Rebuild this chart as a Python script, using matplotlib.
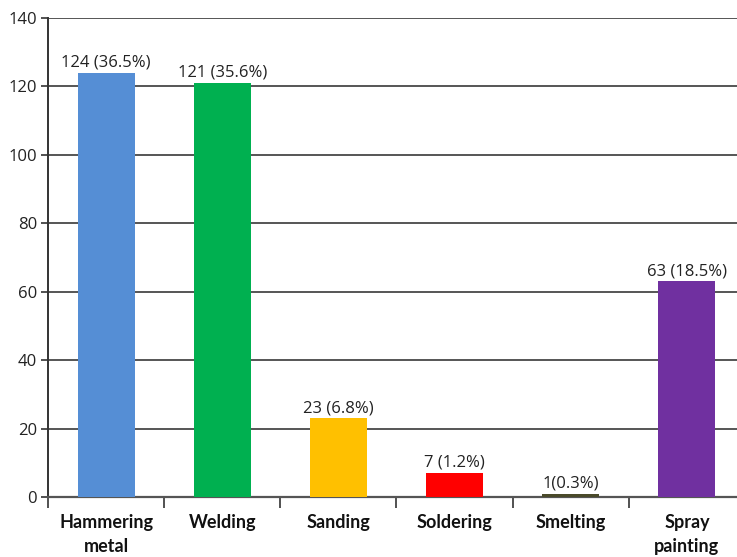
import matplotlib
matplotlib.use("Agg")
import matplotlib.pyplot as plt
import numpy as np

categories = ["Hammering\nmetal", "Welding", "Sanding", "Soldering", "Smelting", "Spray\npainting"]
values = [124, 121, 23, 7, 1, 63]
labels = ["124 (36.5%)", "121 (35.6%)", "23 (6.8%)", "7 (1.2%)", "1(0.3%)", "63 (18.5%)"]
colors = ["#558ED5", "#00B050", "#FFC000", "#FF0000", "#4A4A2A", "#7030A0"]
yticks = [0, 20, 40, 60, 80, 100, 120, 140]

plt.rcParams['font.family'] = ['Open Sans', 'DejaVu Sans']

fig = plt.figure(figsize=(7.37, 5.57), dpi=100)
W, H = 737, 557
ax = fig.add_axes([48 / W, 60 / H, (745 - 48) / W, 479 / H])

x = np.arange(len(categories))
ax.bar(x, values, width=0.49, color=colors, zorder=3)
for xi, v, lab in zip(x, values, labels):
    ax.text(xi, v + 0.6, lab, ha="center", va="bottom", fontsize=12, color="#222222", zorder=4)

ax.set_xlim(-0.5, len(categories) - 0.5)
ax.set_ylim(0, 140)
ax.set_yticks(yticks)
ax.set_yticklabels([str(t) for t in yticks], fontsize=12, color="#222222")
ax.yaxis.grid(True, color="#555555", linewidth=1.4, zorder=0)
ax.set_axisbelow(True)

ax.set_xticks(x)
ax.set_xticklabels(categories, fontsize=13, fontweight="bold", family=["Lato", "DejaVu Sans"],
                   color="#111111", linespacing=1.5)
ax.tick_params(axis="x", length=0, pad=12)
ax.set_xticks(np.arange(-0.5, len(categories) + 0.5, 1), minor=True)
ax.tick_params(axis="x", which="minor", length=8, width=1.2, color="#333333", direction="out")
ax.tick_params(axis="y", length=5, width=1.2, color="#333333", direction="out", pad=3)

for s in ["top", "right"]:
    ax.spines[s].set_visible(False)
ax.spines["left"].set_color("#333333")
ax.spines["left"].set_linewidth(1.4)
ax.spines["bottom"].set_color("#555555")
ax.spines["bottom"].set_linewidth(1.6)

fig.savefig("out.png", dpi=100)
